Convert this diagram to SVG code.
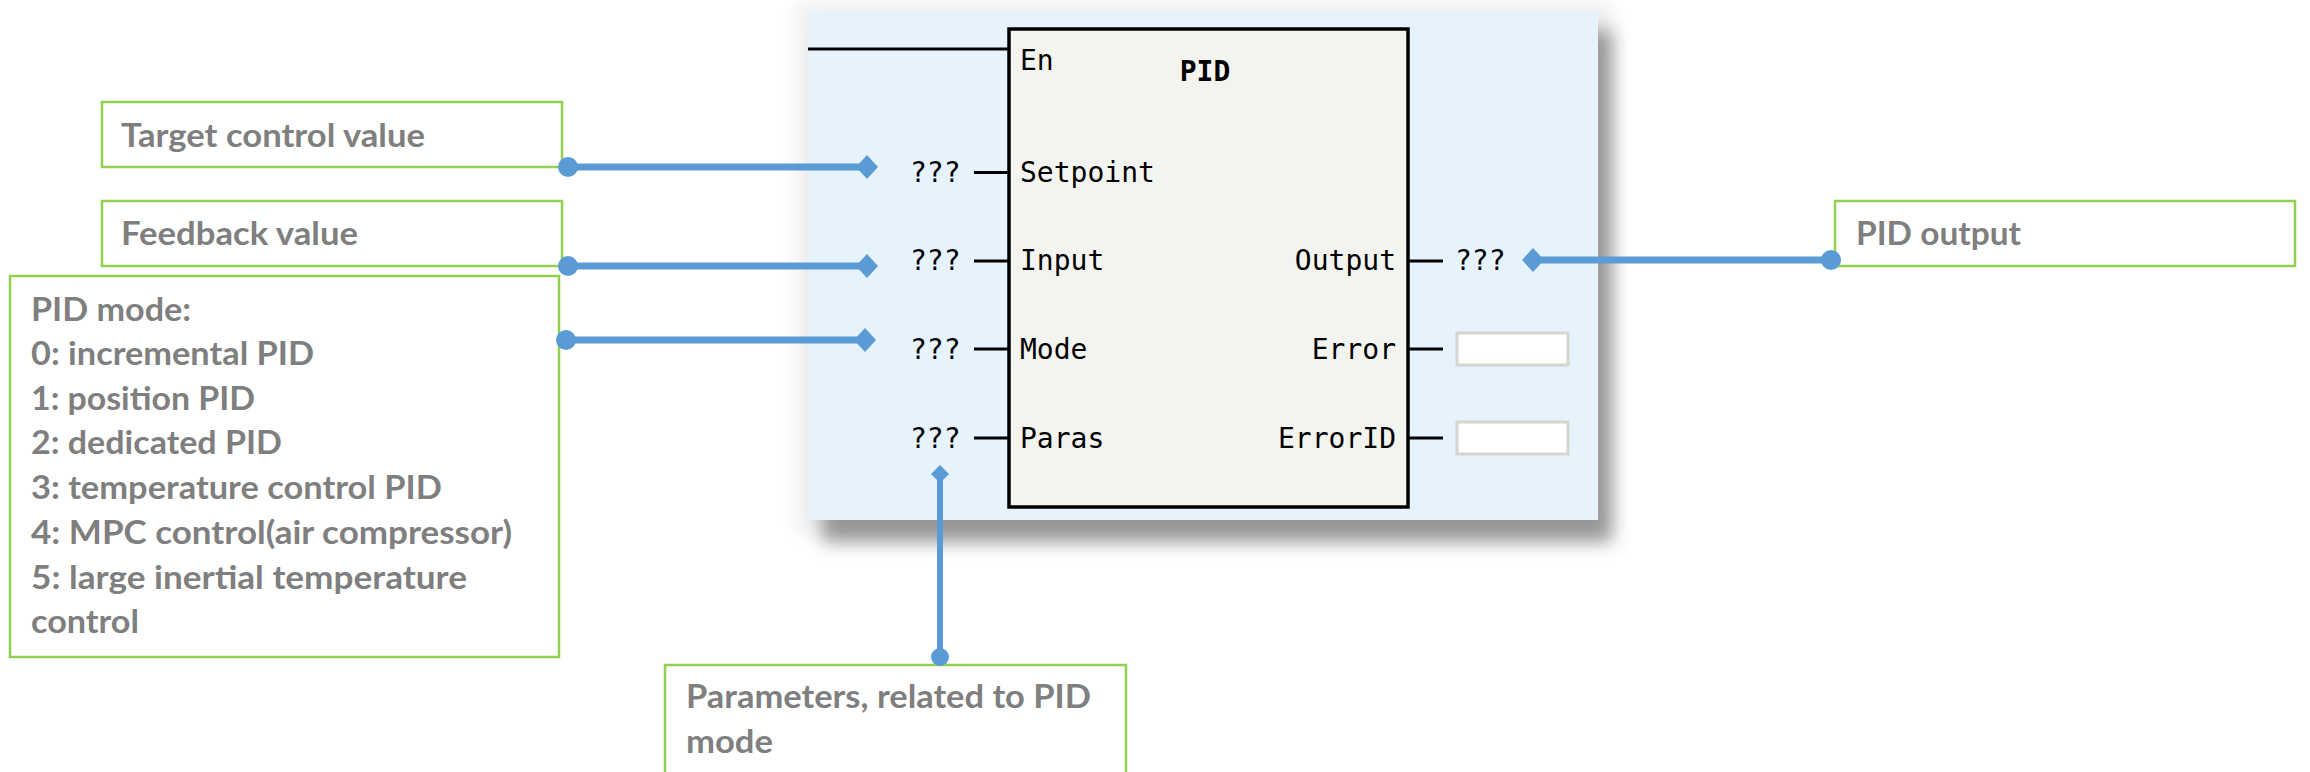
<svg xmlns="http://www.w3.org/2000/svg" width="2310" height="772" viewBox="0 0 2310 772">
<style>
.lbl{font-family:Lato,"Liberation Sans",sans-serif;font-weight:bold;font-size:33px;fill:#7f7f7f}
.box{fill:#ffffff;stroke:#92d050;stroke-width:2.5}
.mono{font-family:"DejaVu Sans Mono","Liberation Mono",monospace;font-size:28px;fill:#000}
.pin{stroke:#000;stroke-width:3}
.conn{stroke:#5b9bd5;stroke-width:7;fill:none}
.connv{stroke:#5b9bd5;stroke-width:6;fill:none}
.outbox{fill:#ffffff;stroke:#d4d6cf;stroke-width:3}
</style>
<defs>
<filter id="shadow" x="-10%" y="-10%" width="130%" height="130%">
<feGaussianBlur stdDeviation="9"/>
</filter>
<marker id="dot" markerUnits="userSpaceOnUse" markerWidth="24" markerHeight="24" refX="12" refY="12" orient="auto">
<circle cx="12" cy="12" r="10" fill="#5b9bd5"/>
</marker>
<marker id="dia" markerUnits="userSpaceOnUse" markerWidth="26" markerHeight="26" refX="13" refY="13" orient="auto">
<polygon points="2,13 13,1 24,13 13,25" fill="#5b9bd5"/>
</marker>
<marker id="dotS" markerUnits="userSpaceOnUse" markerWidth="22" markerHeight="22" refX="11" refY="11" orient="auto">
<circle cx="11" cy="11" r="9" fill="#5b9bd5"/>
</marker>
<marker id="diaS" markerUnits="userSpaceOnUse" markerWidth="22" markerHeight="22" refX="11" refY="11" orient="auto">
<polygon points="2,11 11,2 20,11 11,20" fill="#5b9bd5"/>
</marker>
</defs>
<rect width="2310" height="772" fill="#ffffff"/>

<g id="panel">
<rect x="796" y="2" width="816" height="532" fill="#000" opacity="0.06" filter="url(#shadow)"/>
<rect x="822" y="30" width="790" height="512" fill="#808080" opacity="0.8" filter="url(#shadow)"/>
<rect x="808" y="11" width="790" height="509" fill="#e6f3fd"/>
</g>

<g id="pid-block">
<line x1="808" y1="49" x2="1009" y2="49" class="pin"/>
<rect x="1009" y="29" width="399" height="478" fill="#f3f4ef" stroke="#000" stroke-width="3.5"/>
<text x="1020" y="70" class="mono">En</text>
<text x="1205" y="81" class="mono" font-weight="bold" font-size="30" text-anchor="middle">PID</text>
<text x="910" y="182" class="mono">???</text>
<line x1="974" y1="172.5" x2="1009" y2="172.5" class="pin"/>
<text x="1020" y="182" class="mono">Setpoint</text>
<text x="910" y="270" class="mono">???</text>
<line x1="974" y1="261" x2="1009" y2="261" class="pin"/>
<text x="1020" y="270" class="mono">Input</text>
<text x="910" y="359" class="mono">???</text>
<line x1="974" y1="349" x2="1009" y2="349" class="pin"/>
<text x="1020" y="359" class="mono">Mode</text>
<text x="910" y="448" class="mono">???</text>
<line x1="974" y1="438" x2="1009" y2="438" class="pin"/>
<text x="1020" y="448" class="mono">Paras</text>
<text x="1396" y="270" class="mono" text-anchor="end">Output</text>
<line x1="1408" y1="261" x2="1443" y2="261" class="pin"/>
<text x="1455" y="270" class="mono">???</text>
<text x="1396" y="359" class="mono" text-anchor="end">Error</text>
<line x1="1408" y1="349" x2="1443" y2="349" class="pin"/>
<rect x="1457" y="333" width="111" height="32" class="outbox"/>
<text x="1396" y="448" class="mono" text-anchor="end">ErrorID</text>
<line x1="1408" y1="438" x2="1443" y2="438" class="pin"/>
<rect x="1457" y="422" width="111" height="32" class="outbox"/>
</g>

<g id="target-note">
<rect x="102" y="102" width="460" height="65" class="box"/>
<text x="121" y="147" class="lbl" textLength="304" lengthAdjust="spacingAndGlyphs">Target control value</text>
</g>
<g id="feedback-note">
<rect x="102" y="201" width="460" height="65" class="box"/>
<text x="121" y="245" class="lbl" textLength="237" lengthAdjust="spacingAndGlyphs">Feedback value</text>
</g>
<g id="mode-note">
<rect x="10" y="276" width="549" height="381" class="box"/>
<text x="31" y="321" class="lbl" textLength="160" lengthAdjust="spacingAndGlyphs">PID mode:</text>
<text x="31" y="365" class="lbl" textLength="283" lengthAdjust="spacingAndGlyphs">0: incremental PID</text>
<text x="31" y="410" class="lbl" textLength="224" lengthAdjust="spacingAndGlyphs">1: position PID</text>
<text x="31" y="454" class="lbl" textLength="251" lengthAdjust="spacingAndGlyphs">2: dedicated PID</text>
<text x="31" y="499" class="lbl" textLength="411" lengthAdjust="spacingAndGlyphs">3: temperature control PID</text>
<text x="31" y="544" class="lbl" textLength="481" lengthAdjust="spacingAndGlyphs">4: MPC control(air compressor)</text>
<text x="31" y="589" class="lbl" textLength="436" lengthAdjust="spacingAndGlyphs">5: large inertial temperature</text>
<text x="31" y="633" class="lbl" textLength="108" lengthAdjust="spacingAndGlyphs">control</text>
</g>
<g id="output-note">
<rect x="1835" y="201" width="460" height="65" class="box"/>
<text x="1856" y="245" class="lbl" textLength="165" lengthAdjust="spacingAndGlyphs">PID output</text>
</g>
<g id="paras-note">
<rect x="665" y="665" width="461" height="120" class="box"/>
<text x="686" y="708" class="lbl" textLength="405" lengthAdjust="spacingAndGlyphs">Parameters, related to PID</text>
<text x="686" y="753" class="lbl" textLength="87" lengthAdjust="spacingAndGlyphs">mode</text>
</g>

<g id="connectors">
<line x1="568" y1="167" x2="867" y2="167" class="conn" marker-start="url(#dot)" marker-end="url(#dia)"/>
<line x1="568" y1="266" x2="867" y2="266" class="conn" marker-start="url(#dot)" marker-end="url(#dia)"/>
<line x1="566" y1="340" x2="865" y2="340" class="conn" marker-start="url(#dot)" marker-end="url(#dia)"/>
<line x1="1831" y1="260" x2="1533" y2="260" class="conn" marker-start="url(#dot)" marker-end="url(#dia)"/>
<line x1="940" y1="657" x2="940" y2="474" class="connv" marker-start="url(#dotS)" marker-end="url(#diaS)"/>
</g>
</svg>
